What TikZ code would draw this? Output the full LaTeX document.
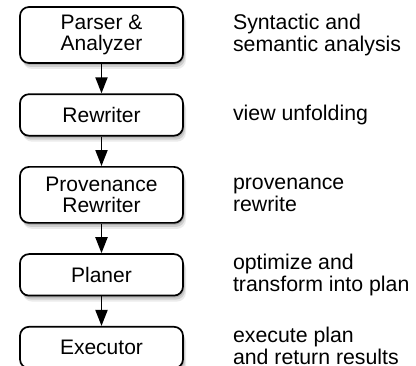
\documentclass[tikz,border=0pt]{standalone}
\usepackage{fontspec}
\setmainfont{Liberation Sans}
\usetikzlibrary{arrows.meta, positioning, shadows}
\tikzset{
  softshadow/.style = {general shadow={shadow xshift=1pt, shadow yshift=-2pt, fill=black, opacity=.14},
                       general shadow={shadow xshift=2pt, shadow yshift=-4pt, fill=black, opacity=.12},
                       general shadow={shadow xshift=3pt, shadow yshift=-6pt, fill=black, opacity=.08}},
  stage/.style = {draw=black, line width=1.7pt, rounded corners=9pt, fill=white,
                  align=center, font=\fontsize{21}{21.5}\selectfont, inner sep=2pt,
                  minimum width=163pt, minimum height=41.5pt, softshadow},
  tall/.style  = {minimum height=56pt},
  note/.style  = {align=left, font=\fontsize{21.3}{21.8}\selectfont, inner sep=0pt},
  flow/.style  = {-{Triangle[length=16pt, width=12pt]}, line width=1.9pt},
}
\begin{document}
\begin{tikzpicture}[node distance=29.5pt and 49pt]
  \useasboundingbox (0,0) rectangle (416pt,-366pt);
  \node[stage, tall] (parse) at (101.5pt,-35pt) {Parser \&\\Analyzer};
  \node[stage, below=of parse]       (rewrite) {Rewriter};
  \node[stage, tall, below=of rewrite] (prov)  {Provenance\\Rewriter};
  \node[stage, below=of prov]        (plan)    {Planer};
  \node[stage, below=of plan]        (exec)    {Executor};
  \node[note, right=of parse]   (parse-note)   {Syntactic and\\semantic analysis};
  \node[note, right=of rewrite] (rewrite-note) {view unfolding};
  \node[note, right=of prov]    (prov-note)    {provenance\\rewrite};
  \node[note, right=of plan]    (plan-note)    {optimize and\\transform into plan};
  \node[note, right=of exec, yshift=2pt] (exec-note) {execute plan\\and return results};
  \draw[flow] (parse) -- (rewrite);
  \draw[flow] (rewrite) -- (prov);
  \draw[flow] (prov) -- (plan);
  \draw[flow] (plan) -- (exec);
\end{tikzpicture}
\end{document}
